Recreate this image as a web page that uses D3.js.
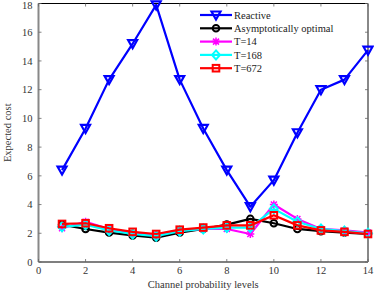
<!DOCTYPE html>
<html>
<head>
<meta charset="utf-8">
<script src="https://cdn.jsdelivr.net/npm/d3@7"></script>
<style>
  body { margin: 0; background: #fff; }
  text { font-family: "Liberation Serif", "DejaVu Serif", serif; }
</style>
</head>
<body>
<svg id="chart" width="374" height="293"></svg>
<script>
var levels = [1, 2, 3, 4, 5, 6, 7, 8, 9, 10, 11, 12, 13, 14];
var reactive = [6.4, 9.3, 12.7, 15.2, 17.9, 12.7, 9.3, 6.4, 3.85, 5.7, 9.0, 12.0, 12.7, 14.75];
var asymOptimal = [2.6, 2.3, 2.05, 1.85, 1.7, 2.05, 2.3, 2.6, 3.0, 2.7, 2.3, 2.15, 2.05, 1.95];
var t14 = [2.35, 2.8, 2.3, 2.0, 1.9, 2.2, 2.3, 2.3, 1.95, 4.0, 3.0, 2.3, 2.2, 2.05];
var t168 = [2.45, 2.6, 2.2, 1.95, 1.8, 2.15, 2.3, 2.4, 2.4, 3.7, 2.8, 2.3, 2.15, 2.0];
var t672 = [2.65, 2.7, 2.35, 2.1, 1.95, 2.25, 2.4, 2.55, 2.55, 3.25, 2.55, 2.2, 2.1, 1.95];
var xTicks = [0, 2, 4, 6, 8, 10, 12, 14];
var yTicks = [0, 2, 4, 6, 8, 10, 12, 14, 16, 18];

var series = [
    { name: "Reactive", values: reactive, color: "#0000ff", marker: "tri" },
    { name: "Asymptotically optimal", values: asymOptimal, color: "#000000", marker: "circle" },
    { name: "T=14", values: t14, color: "#ff00ff", marker: "star" },
    { name: "T=168", values: t168, color: "#00ffff", marker: "diamond" },
    { name: "T=672", values: t672, color: "#ff0000", marker: "square" }
];

var margin = { top: 3.5, right: 6, bottom: 31, left: 38.5 },
    width = 374 - margin.left - margin.right,
    height = 293 - margin.top - margin.bottom;

var fs = "10.5px";
var svg = d3.select("#chart");
var g = svg.append("g").attr("transform", "translate(" + margin.left + "," + margin.top + ")");

var x = d3.scaleLinear().domain([0, 14]).range([0, width]);
var y = d3.scaleLinear().domain([0, 18]).range([height, 0]);

// frame: top/bottom black, left/right gray
g.append("line").attr("x1", 0).attr("x2", width).attr("y1", 0).attr("y2", 0)
    .style("stroke", "#000").style("stroke-width", 1);
g.append("line").attr("x1", 0).attr("x2", width).attr("y1", height).attr("y2", height)
    .style("stroke", "#000").style("stroke-width", 1.2);
g.append("line").attr("x1", 0).attr("x2", 0).attr("y1", 0).attr("y2", height)
    .style("stroke", "#888").style("stroke-width", 2);
g.append("line").attr("x1", width).attr("x2", width).attr("y1", 0).attr("y2", height)
    .style("stroke", "#888").style("stroke-width", 2);

// ticks (inward, all four sides)
var tk = 3;
xTicks.forEach(function(t) {
    g.append("line").attr("x1", x(t)).attr("x2", x(t)).attr("y1", height).attr("y2", height - tk)
        .style("stroke", "#666").style("stroke-width", 0.8);
    g.append("line").attr("x1", x(t)).attr("x2", x(t)).attr("y1", 0).attr("y2", tk)
        .style("stroke", "#666").style("stroke-width", 0.8);
    g.append("text").attr("x", x(t)).attr("y", height + 12)
        .attr("text-anchor", "middle").style("font-size", fs).style("fill", "#333").text(t);
});
yTicks.forEach(function(t) {
    g.append("line").attr("x1", 0).attr("x2", tk).attr("y1", y(t)).attr("y2", y(t))
        .style("stroke", "#666").style("stroke-width", 0.8);
    g.append("line").attr("x1", width).attr("x2", width - tk).attr("y1", y(t)).attr("y2", y(t))
        .style("stroke", "#666").style("stroke-width", 0.8);
    // keep the top label inside the page
    g.append("text").attr("x", -6).attr("y", Math.max(y(t), 1.5)).attr("dy", "0.35em")
        .attr("text-anchor", "end").style("font-size", fs).style("fill", "#333").text(t);
});

// axis labels
g.append("text").attr("x", width / 2).attr("y", height + 26)
    .attr("text-anchor", "middle").style("font-size", fs).style("fill", "#333")
    .text("Channel probability levels");
svg.append("text").attr("transform", "translate(11," + (margin.top + height / 2) + ") rotate(-90)")
    .attr("text-anchor", "middle").style("font-size", fs).style("fill", "#333")
    .text("Expected cost");

function drawMarker(sel, type, color) {
    if (type === "tri") {
        sel.append("path").attr("d", "M-4.5,-3.5L4.5,-3.5L0,4.5Z")
            .style("fill", "none").style("stroke", color).style("stroke-width", 2.2);
    } else if (type === "circle") {
        sel.append("circle").attr("r", 3.3)
            .style("fill", "none").style("stroke", color).style("stroke-width", 2);
    } else if (type === "star") {
        sel.append("path").attr("d", "M-4,0L4,0M0,-4L0,4M-3,-3L3,3M-3,3L3,-3")
            .style("fill", "none").style("stroke", color).style("stroke-width", 1.5);
    } else if (type === "diamond") {
        sel.append("path").attr("d", "M0,-4.5L4,0L0,4.5L-4,0Z")
            .style("fill", "none").style("stroke", color).style("stroke-width", 2);
    } else if (type === "square") {
        sel.append("rect").attr("x", -3.3).attr("y", -3.3).attr("width", 6.6).attr("height", 6.6)
            .style("fill", "none").style("stroke", color).style("stroke-width", 2);
    }
}

var line = d3.line()
    .x(function(d, i) { return x(levels[i]); })
    .y(function(d) { return y(d); });

series.forEach(function(s) {
    var sg = g.append("g");
    sg.append("path").attr("d", line(s.values))
        .style("fill", "none").style("stroke", s.color).style("stroke-width", 2.2)
        .style("stroke-linejoin", "round");
    s.values.forEach(function(v, i) {
        var m = sg.append("g").attr("transform", "translate(" + x(levels[i]) + "," + y(v) + ")");
        drawMarker(m, s.marker, s.color);
    });
});

// legend
var lg = g.append("g").attr("transform", "translate(" + (200 - margin.left) + "," + (15 - margin.top) + ")");
series.forEach(function(s, i) {
    var row = lg.append("g").attr("transform", "translate(0," + (i * 13.3) + ")");
    row.append("line").attr("x1", 0).attr("x2", 32).attr("y1", 0).attr("y2", 0)
        .style("stroke", s.color).style("stroke-width", 2.2);
    var m = row.append("g").attr("transform", "translate(16,0)");
    drawMarker(m, s.marker, s.color);
    row.append("text").attr("x", 34).attr("y", 0).attr("dy", "0.35em")
        .style("font-size", fs).style("fill", "#222").text(s.name);
});
</script>
</body>
</html>
